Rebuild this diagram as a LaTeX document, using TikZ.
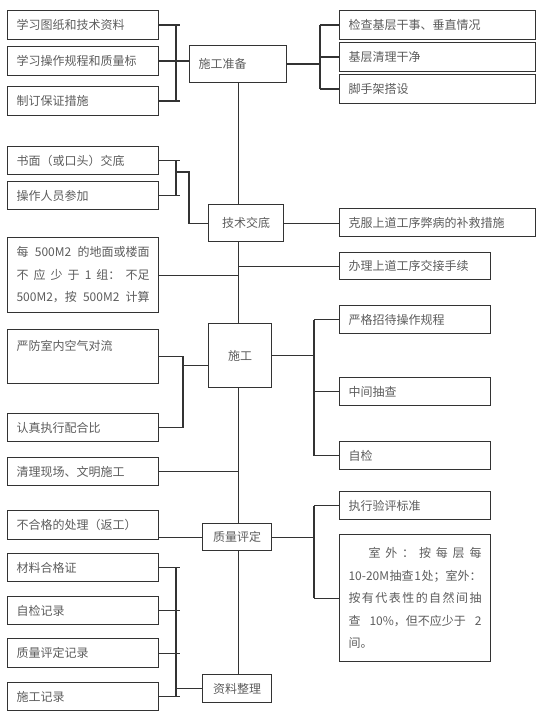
\documentclass[tikz,border=0pt]{standalone}
\usepackage{fontspec}
\newfontfamily\cjk{Noto Sans CJK SC}
\usetikzlibrary{calc}

\definecolor{linegray}{HTML}{333333}
\definecolor{textgray}{HTML}{5C5C5C}

\tikzset{
  box/.style={draw=linegray, line width=1.1pt, anchor=north west, inner xsep=9pt, inner ysep=0pt,
    text=textgray, font=\cjk\fontsize{12}{22.5}\selectfont},
  lbox/.style={box, text width=133pt, minimum height=28pt, align=left},
  wbox/.style={box, text width=178pt, minimum height=28pt, align=left},
  cbox/.style={box, inner xsep=0pt, align=center},
  link/.style={draw=linegray, line width=1.1pt},
}

\begin{document}
\begin{tikzpicture}[x=1pt, y=-1pt]
    \useasboundingbox (0,0) rectangle (554,719);

    % spines of the brackets
    \coordinate (sp1) at (176,0);
    \coordinate (sp2) at (320,0);
    \coordinate (sp3) at (314,0);
    \coordinate (sp4) at (183,0);
    \coordinate (sj) at (176,172);
    \coordinate (jog) at (189,172);

    % main column
    \node[box, text width=79pt, minimum height=37pt, align=left] (zb) at (189,45) {施工准备};
    \node[cbox, minimum width=75pt, minimum height=37pt] (jd) at (208,204) {技术交底};
    \node[cbox, minimum width=63pt, minimum height=64pt] (sg) at (208,323) {施工};
    \node[cbox, minimum width=69pt, minimum height=27pt] (zl) at (202,523) {质量评定};
    \node[cbox, minimum width=69pt, minimum height=28pt] (zz) at (202,674) {资料整理};

    % left column
    \node[lbox, minimum height=29pt] (tz) at (7,10) {学习图纸和技术资料};
    \node[lbox, minimum height=29pt] (gc) at (7,46) {学习操作规程和质量标};
    \node[lbox, minimum height=29pt] (cs) at (7,86) {制订保证措施};
    \node[lbox] (sm) at (7,146) {书面（或口头）交底};
    \node[lbox] (cz) at (7,181) {操作人员参加};
    \node[lbox, minimum height=75pt] (ms) at (7,237)
      {每\hfill 500M2\hfill 的地面或楼面\\不\hfill 应\hfill 少\hfill 于\hfill 1\hfill 组：\hfill 不足\\500M2，按\hfill 500M2\hfill 计算};
    \node[lbox, minimum height=54pt] (yf) at (7,329) {严防室内空气对流\\\mbox{}};
    \node[lbox] (rz) at (7,413) {认真执行配合比};
    \node[lbox] (xc) at (7,457) {清理现场、文明施工};
    \node[lbox, minimum height=29pt] (bh) at (7,510) {不合格的处理（返工）};
    \node[lbox] (cl) at (7,553) {材料合格证};
    \node[lbox] (zj) at (7,596) {自检记录};
    \node[lbox, minimum height=29pt] (pd) at (7,638) {质量评定记录};
    \node[lbox] (jl) at (7,682) {施工记录};

    % right column
    \node[wbox, minimum height=29pt] (jc) at (339,10) {检查基层干事、垂直情况};
    \node[wbox, minimum height=29pt] (ql) at (339,42) {基层清理干净};
    \node[wbox, minimum height=29pt] (jsj) at (339,74) {脚手架搭设};
    \node[wbox] (kf) at (339,208) {克服上道工序弊病的补救措施};
    \node[lbox, minimum height=27pt] (bl) at (339,252) {办理上道工序交接手续};
    \node[lbox] (yg) at (339,305) {严格招待操作规程};
    \node[lbox] (cc) at (339,377) {中间抽查};
    \node[lbox] (zjr) at (339,441) {自检};
    \node[lbox] (zx) at (339,491) {执行验评标准};
    \node[lbox, minimum height=127pt] (sw) at (339,534)
      {\hspace*{20pt}室\hfill 外\hfill ：\hfill 按\hfill 每\hfill 层\hfill 每\\10-20M\hfill 抽查\hfill 1\hfill 处；室外：\\按\hfill 有\hfill 代\hfill 表\hfill 性\hfill 的\hfill 自\hfill 然\hfill 间\hfill 抽\\查\hfill 10\%，但不应少于\hfill 2\\间。};

    % trunk
    \draw[link] (zb.south) -- (zb.south |- jd.north);
    \draw[link] (jd.south -| zb.south) -- (zb.south |- sg.north);
    \draw[link] (sg.south -| zb.south) -- (zb.south |- zl.north);
    \draw[link] (zl.south -| zb.south) -- (zb.south |- zz.north);

    % preparation
    \draw[link] (tz.east -| sp1) -- (cs.east -| sp1);
    \foreach \n in {tz,gc,cs}
        \draw[link, shorten >=-4pt] (\n.east) -- (\n.east -| sp1);
    \draw[link] (gc.east -| sp1) -- (zb.west |- gc.east);
    \draw[link] (zb.east) -- (zb.east -| sp2);
    \draw[link] (jc.west -| sp2) -- (jsj.west -| sp2);
    \foreach \n in {jc,ql,jsj}
        \draw[link] (\n.west -| sp2) -- (\n.west);

    % briefing
    \draw[link] (sm.east -| sp1) -- (cz.east -| sp1);
    \foreach \n in {sm,cz}
        \draw[link, shorten >=-4pt] (\n.east) -- (\n.east -| sp1);
    \draw[link] (sj) -- (jog) |- (jd.west);
    \draw[link] (jd.east) -- (jd.east -| kf.west);
    \draw[link] (ms.east) -- (ms.east -| zb.south);
    \draw[link] (bl.west) -- (bl.west -| zb.south);

    % construction
    \draw[link] (yf.east) -| (rz.east -| sp4) -- (rz.east);
    \draw[link] ([yshift=-10pt]sg.west) -- ([yshift=-10pt]sg.west -| sp4);
    \draw[link] (sg.east) -- (sg.east -| sp3);
    \draw[link] (yg.west -| sp3) -- (zjr.west -| sp3);
    \foreach \n in {yg,cc,zjr}
        \draw[link] (\n.west -| sp3) -- (\n.west);
    \draw[link] (xc.east) -- (xc.east -| zb.south);

    % assessment
    \draw[link] (zl.west) -- (zl.west -| bh.east);
    \draw[link] (zl.east) -- (zl.east -| sp3);
    \draw[link] (zx.west -| sp3) -- (sw.west -| sp3);
    \foreach \n in {zx,sw}
        \draw[link] (\n.west -| sp3) -- (\n.west);

    % records
    \draw[link] (cl.east -| sp1) -- (jl.east -| sp1);
    \foreach \n in {cl,zj,pd,jl}
        \draw[link, shorten >=-4pt] (\n.east) -- (\n.east -| sp1);
    \draw[link] (zz.west) -- (zz.west -| sp1);
\end{tikzpicture}
\end{document}
